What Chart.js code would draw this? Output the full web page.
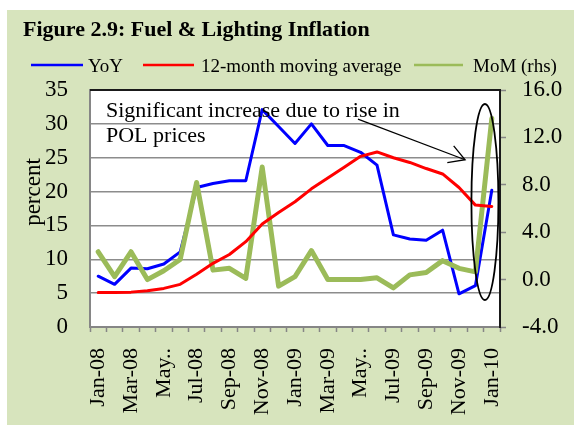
<!DOCTYPE html>
<html><head><meta charset="utf-8">
<script src="https://cdn.jsdelivr.net/npm/chart.js@4/dist/chart.umd.min.js"></script>
<style>html,body{margin:0;padding:0;background:#fff}canvas{display:block}</style>
</head><body>
<canvas id="c" width="574" height="425"></canvas>
<script>
const categories = ["Jan-08","Feb-08","Mar-08","Apr-08","May-08","Jun-08","Jul-08","Aug-08","Sep-08","Oct-08","Nov-08","Dec-08",
  "Jan-09","Feb-09","Mar-09","Apr-09","May-09","Jun-09","Jul-09","Aug-09","Sep-09","Oct-09","Nov-09","Dec-09","Jan-10"];
const tickLabels = ["Jan-08","Mar-08","May..","Jul-08","Sep-08","Nov-08","Jan-09","Mar-09","May..","Jul-09","Sep-09","Nov-09","Jan-10"];
const yoy = [7.5, 6.3, 8.7, 8.6, 9.3, 11.1, 20.6, 21.2, 21.6, 21.6, 32.1, 29.6, 27.1, 30.0, 26.8, 26.8, 25.8, 23.9, 13.6, 13.0, 12.8, 14.3, 4.9, 6.1, 20.2];
const movingAverage = [5.1, 5.1, 5.15, 5.35, 5.7, 6.3, 7.8, 9.4, 10.7, 12.6, 15.2, 16.9, 18.5, 20.4, 22.0, 23.6, 25.2, 25.85, 25.0, 24.3, 23.4, 22.6, 20.6, 18.0, 17.8];
const mom = [2.35, 0.25, 2.35, 0.0, 0.75, 1.7, 8.2, 0.8, 0.95, 0.1, 9.5, -0.55, 0.25, 2.45, 0.0, 0.0, 0.0, 0.15, -0.7, 0.4, 0.6, 1.6, 0.95, 0.65, 13.6];
const leftAxis = {min: 0, max: 35, step: 5};
const rightAxis = {min: -4, max: 16, step: 4};
const titleText = "Figure 2.9: Fuel & Lighting Inflation";
const legendLabels = ["YoY", "12-month moving average", "MoM (rhs)"];
const yAxisTitle = "percent";
const noteLines = ["Significant increase due to rise in", "POL prices"];

const SERIF = '"Liberation Serif", "Times New Roman", serif';
const BLUE = '#0000FF', RED = '#FF0000', GREEN = '#9BBB59';

const deco = {
  id: 'deco',
  beforeDraw(chart) {
    const {ctx, width, height, chartArea: a} = chart;
    ctx.save();
    ctx.fillStyle = '#fff'; ctx.fillRect(0, 0, width, height);
    ctx.fillStyle = '#D7E4BD'; ctx.fillRect(7, 10, width - 7, height - 10);
    ctx.fillStyle = '#fff'; ctx.fillRect(a.left, a.top, a.right - a.left, a.bottom - a.top);
    ctx.fillStyle = '#000';
    ctx.textAlign = 'left'; ctx.textBaseline = 'alphabetic';
    ctx.font = 'bold 22px ' + SERIF;
    ctx.fillText(titleText, 23, 36);
    // legend
    ctx.font = '19px ' + SERIF;
    const items = [
      {c: BLUE, x1: 31, x2: 83, tx: 88, t: legendLabels[0]},
      {c: RED, x1: 143, x2: 194, tx: 201, t: legendLabels[1]},
      {c: GREEN, x1: 414, x2: 463, tx: 473, t: legendLabels[2]}
    ];
    items.forEach(it => {
      ctx.strokeStyle = it.c; ctx.lineWidth = 2.5;
      ctx.beginPath(); ctx.moveTo(it.x1, 65); ctx.lineTo(it.x2, 65); ctx.stroke();
      ctx.fillText(it.t, it.tx, 72);
    });
    // y axis title
    ctx.save();
    ctx.translate(34, 192); ctx.rotate(-Math.PI / 2);
    ctx.textAlign = 'center'; ctx.textBaseline = 'middle';
    ctx.font = '23px ' + SERIF;
    ctx.fillText(yAxisTitle, 0, 0);
    ctx.restore();
    ctx.restore();
  },
  afterDraw(chart) {
    const {ctx, chartArea: a, scales} = chart;
    const x = scales.x, y = scales.y;
    ctx.save();
    // top and right frame
    ctx.strokeStyle = '#1a1a1a'; ctx.lineWidth = 2;
    ctx.beginPath(); ctx.moveTo(a.left, a.top); ctx.lineTo(a.right, a.top); ctx.lineTo(a.right, a.bottom); ctx.stroke();
    // note text
    ctx.fillStyle = '#000'; ctx.font = '22px ' + SERIF;
    ctx.textAlign = 'left'; ctx.textBaseline = 'alphabetic';
    ctx.fillText(noteLines[0], a.left + 16, a.top + 27);
    ctx.fillText(noteLines[1], a.left + 16, a.top + 52);
    // arrow
    const sx = x.getPixelForValue(15.84), sy = y.getPixelForValue(30.7);
    const ex = x.getPixelForValue(22.37), ey = y.getPixelForValue(24.7);
    ctx.strokeStyle = '#000'; ctx.lineWidth = 1.3;
    ctx.beginPath(); ctx.moveTo(sx, sy); ctx.lineTo(ex, ey); ctx.stroke();
    const ang = Math.atan2(ey - sy, ex - sx), L = 18, w = Math.PI / 6;
    ctx.beginPath();
    ctx.moveTo(ex - L * Math.cos(ang - w), ey - L * Math.sin(ang - w));
    ctx.lineTo(ex, ey);
    ctx.lineTo(ex - L * Math.cos(ang + w), ey - L * Math.sin(ang + w));
    ctx.stroke();
    // ellipse
    const cx = x.getPixelForValue(23.58), cy = y.getPixelForValue(18.46);
    ctx.lineWidth = 1.8;
    ctx.beginPath(); ctx.ellipse(cx, cy, 13.5, 98, 0, 0, Math.PI * 2); ctx.stroke();
    ctx.restore();
  }
};

const lineDs = (label, data, color, width, axis, order) => ({
  label, data, borderColor: color, backgroundColor: color, borderWidth: width,
  yAxisID: axis, order, pointRadius: 0, tension: 0, fill: false,
  borderJoinStyle: 'round', borderCapStyle: 'round'
});

new Chart(document.getElementById('c'), {
  type: 'line',
  data: {
    labels: categories,
    datasets: [
      lineDs(legendLabels[0], yoy, BLUE, 3, 'y', 2),
      lineDs(legendLabels[1], movingAverage, RED, 3, 'y', 0),
      lineDs(legendLabels[2], mom, GREEN, 5, 'y1', 1)
    ]
  },
  options: {
    responsive: false,
    animation: false,
    layout: {padding: {top: 90, left: 0, right: 0, bottom: 0}},
    plugins: {legend: {display: false}, title: {display: false}, tooltip: {enabled: false}},
    scales: {
      x: {
        type: 'category', offset: true,
        grid: {offset: true, drawOnChartArea: false, drawTicks: true, tickLength: 5, tickColor: '#868686', tickWidth: 1.5},
        border: {display: true, color: '#868686', width: 2},
        ticks: {
          autoSkip: false, maxRotation: 90, minRotation: 90, padding: 16, color: '#000',
          font: {family: SERIF, size: 22},
          callback: (v, i) => (i % 2 === 0 ? tickLabels[i / 2] : '')
        },
        afterFit: s => { s.height = 98; }
      },
      y: {
        position: 'left', min: leftAxis.min, max: leftAxis.max,
        grid: {color: '#8c8c8c', lineWidth: 1.5, drawTicks: false},
        border: {display: true, color: '#868686', width: 2},
        ticks: {stepSize: leftAxis.step, padding: 22, color: '#000', font: {family: SERIF, size: 23}},
        afterFit: s => { s.width = 90; }
      },
      y1: {
        position: 'right', min: rightAxis.min, max: rightAxis.max,
        grid: {drawOnChartArea: false, drawTicks: true, tickLength: 6, tickColor: '#868686', tickWidth: 1.5},
        border: {display: true, color: '#1a1a1a', width: 2},
        ticks: {stepSize: rightAxis.step, padding: 16, color: '#000', font: {family: SERIF, size: 23},
          callback: v => Number(v).toFixed(1)},
        afterFit: s => { s.width = 74; }
      }
    }
  },
  plugins: [deco]
});
</script>
</body></html>
